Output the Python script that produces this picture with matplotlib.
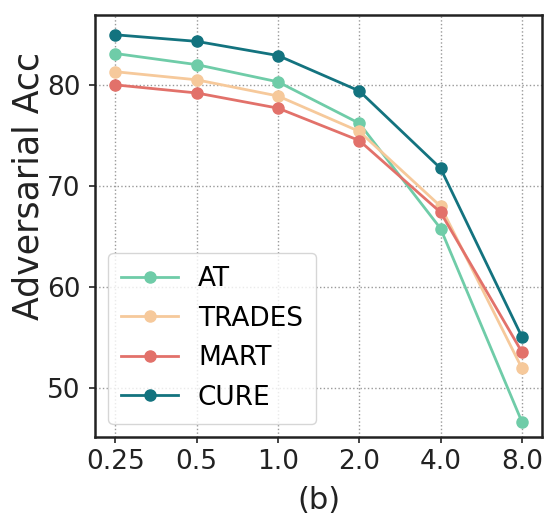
import matplotlib
matplotlib.use("Agg")
import matplotlib.pyplot as plt
import numpy as np

# Perturbation budgets (x-axis categories)
budgets = ["0.25", "0.5", "1.0", "2.0", "4.0", "8.0"]

# Adversarial accuracy per method
acc_at = [83.1, 82.0, 80.3, 76.2, 65.8, 46.7]
acc_trades = [81.3, 80.5, 78.9, 75.4, 68.0, 52.0]
acc_mart = [80.0, 79.2, 77.7, 74.5, 67.4, 53.6]
acc_cure = [84.95, 84.3, 82.9, 79.4, 71.75, 55.1]

methods = ["AT", "TRADES", "MART", "CURE"]
colors = ["#6fcca8", "#f6c99b", "#e2716a", "#13737f"]

fig = plt.figure(figsize=(5.59, 5.19), dpi=100)
ax = fig.add_axes([0.170, 0.158, 0.800, 0.813])

x = np.arange(len(budgets))
for name, vals, c in zip(methods, [acc_at, acc_trades, acc_mart, acc_cure], colors):
    ax.plot(x, vals, marker="o", markersize=8, linewidth=2, color=c, label=name)

ax.set_xticks(x)
ax.set_xticklabels(budgets)
ax.set_yticks([50, 60, 70, 80])
ax.set_xlim(-0.25, 5.25)
ax.set_ylim(45.2, 86.9)
ax.tick_params(labelsize=19, length=4, width=1.2, colors="#222222")
ax.tick_params(axis="x", pad=4.5)
ax.tick_params(axis="y", pad=6.5)
ax.grid(True, linestyle=":", color="#999999", linewidth=1.0)
for s in ax.spines.values():
    s.set_linewidth(1.8)
    s.set_color("#222222")

ax.set_ylabel("Adversarial Acc", fontsize=25, color="#222222")
ax.yaxis.set_label_coords(-0.111, 0.594)
ax.set_xlabel("(b)", fontsize=22, color="#222222", labelpad=8)

leg = ax.legend(loc="lower left", fontsize=19, handlelength=2.15, handletextpad=0.75,
                borderpad=0.5, labelspacing=0.51, frameon=True)
leg.get_frame().set_edgecolor("#cccccc")

fig.savefig("out.png", dpi=100)
